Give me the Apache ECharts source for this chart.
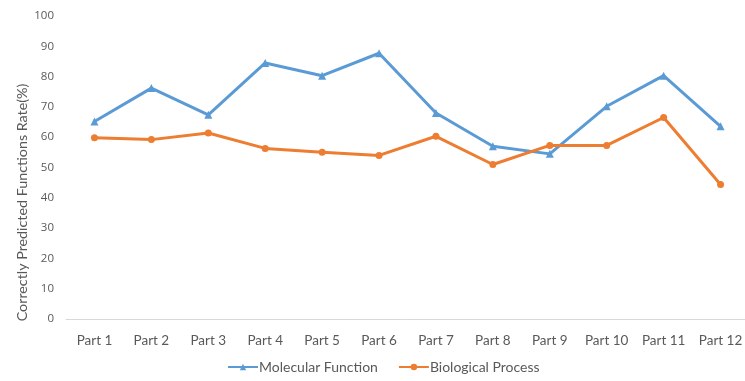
<!DOCTYPE html>
<html>
<head>
<meta charset="utf-8">
<script src="https://cdn.jsdelivr.net/npm/echarts@6/dist/echarts.min.js"></script>
<style>
  html, body { margin: 0; padding: 0; background: #fff; }
  #main { width: 745px; height: 381px; }
</style>
</head>
<body>
<div id="main"></div>
<script>
// 类目和两条线的数据
var parts = ['Part 1', 'Part 2', 'Part 3', 'Part 4', 'Part 5', 'Part 6', 'Part 7', 'Part 8', 'Part 9', 'Part 10', 'Part 11', 'Part 12'];
var molecularFunction = [65.2, 76.2, 67.4, 84.5, 80.3, 87.7, 68.0, 57.0, 54.5, 70.2, 80.3, 63.6];
var biologicalProcess = [59.8, 59.2, 61.4, 56.3, 55.0, 54.0, 60.3, 51.0, 57.3, 57.3, 66.5, 44.4];

(function () {
  var myChart = echarts.init(document.getElementById('main'));
  var textColor = '#595959';
  var option = {
    animation: false,
    color: ['#5b9bd5', '#ed7d31'],
    textStyle: { fontFamily: 'Lato' },
    legend: {
      bottom: 2,
      left: 222,
      itemWidth: 30,
      itemHeight: 8,
      itemGap: 20,
      textStyle: { color: textColor, fontSize: 14, fontFamily: 'Lato', padding: [0, 0, 0, -4] },
      data: ['Molecular Function', 'Biological Process']
    },
    grid: {
      left: 66,
      right: -4,
      top: 16,
      bottom: 62,
      outerBoundsMode: 'none'
    },
    xAxis: {
      type: 'category',
      data: parts,
      axisLine: { lineStyle: { color: '#d9d9d9', width: 1 } },
      axisTick: { show: false },
      axisLabel: { color: textColor, fontSize: 13.5, margin: 15, interval: 0 }
    },
    yAxis: {
      type: 'value',
      min: 0,
      max: 100,
      interval: 10,
      name: 'Correctly Predicted Functions Rate(%)',
      nameLocation: 'middle',
      nameGap: 37,
      // 右侧留白让竖排标题整体下移
      nameTextStyle: { color: textColor, fontSize: 14.3, padding: [0, 70, 0, 0] },
      nameMoveOverlap: false,
      axisLine: { show: false },
      axisTick: { show: false },
      splitLine: { show: false },
      axisLabel: { color: textColor, fontSize: 11.5, margin: 12, fontFamily: 'Open Sans' }
    },
    series: [{
      name: 'Molecular Function',
      type: 'line',
      data: molecularFunction,
      symbol: 'triangle',
      symbolSize: 8,
      lineStyle: { width: 3 },
      itemStyle: { color: '#5b9bd5' }
    }, {
      name: 'Biological Process',
      type: 'line',
      data: biologicalProcess,
      symbol: 'circle',
      symbolSize: 7,
      lineStyle: { width: 3 },
      itemStyle: { color: '#ed7d31' }
    }]
  };
  myChart.setOption(option);
})();
</script>
</body>
</html>
